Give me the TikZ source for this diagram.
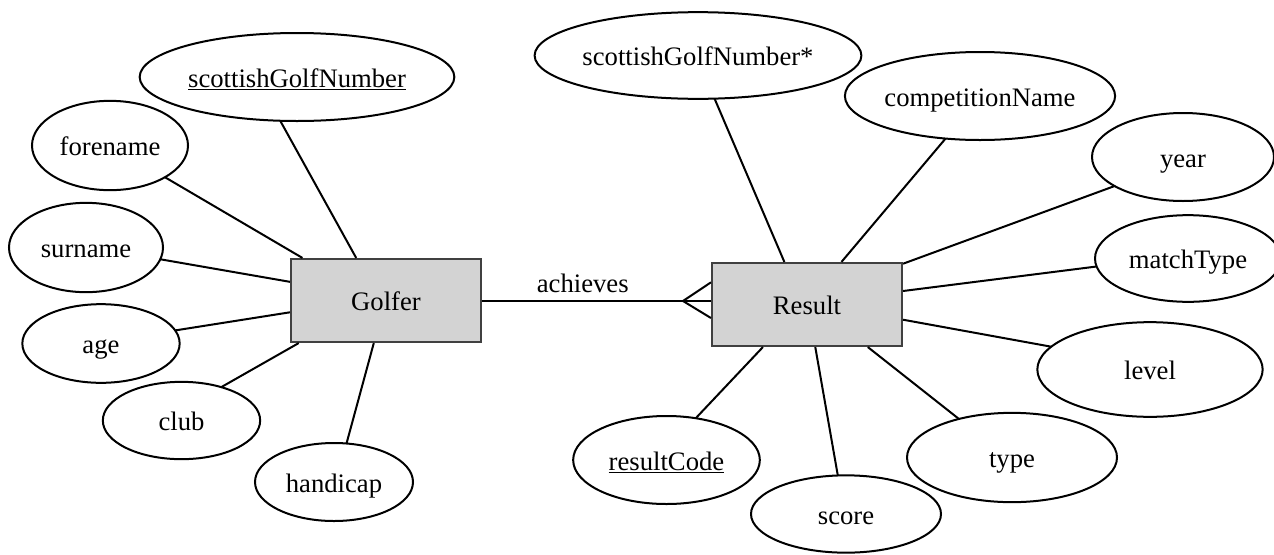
\documentclass[tikz,border=0pt]{standalone}
\usepackage{fontspec}
\setmainfont{Liberation Serif}
\usetikzlibrary{shapes.geometric}
\definecolor{entfill}{RGB}{211,211,211}

\begin{document}
\begin{tikzpicture}[x=0.75pt,y=0.75pt,yscale=-1,xscale=1,
  every node/.style={font=\fontsize{20}{24}\selectfont, text height=17pt, text depth=1.8pt},
  entity/.style={draw=black!75, line width=1.6pt, fill=entfill, minimum width=142.5pt, minimum height=62.25pt, inner sep=0pt},
  attr/.style={ellipse, draw=black, line width=1.5pt, inner sep=0pt, outer sep=0pt},
  link/.style={draw=black, line width=1.5pt}]

\useasboundingbox (0,0) rectangle (1274,554);

%Shape: Rectangle [entities]
\node[entity] (golfer) at (386,300.5) {Golfer};
\node[entity] (result) at (807,304.5) {Result};

%Shape: Ellipse [Golfer attributes]
\node[attr, minimum width=236pt, minimum height=66pt] (sgn) at (297,77) {\underline{scottishGolfNumber}};
\node[attr, minimum width=117pt, minimum height=67pt] (forename) at (110,145.5) {forename};
\node[attr, minimum width=115.5pt, minimum height=67pt] (surname) at (86,247.5) {surname};
\node[attr, minimum width=118pt, minimum height=59pt] (age) at (101,343.5) {age};
\node[attr, minimum width=118pt, minimum height=58pt] (club) at (181.5,420.5) {club};
\node[attr, minimum width=118.5pt, minimum height=58.5pt] (handicap) at (334,482) {handicap};

%Shape: Ellipse [Result attributes]
\node[attr, minimum width=241.5pt, minimum height=65pt] (sgnfk) at (698,55.5) {scottishGolfNumber*};
\node[attr, minimum width=199.5pt, minimum height=66pt] (compname) at (980,96) {competitionName};
\node[attr, minimum width=136.5pt, minimum height=66pt] (year) at (1183,157) {year};
\node[attr, minimum width=139.5pt, minimum height=65pt] (matchtype) at (1188,258.5) {matchType};
\node[attr, minimum width=169pt, minimum height=71pt] (level) at (1150,369.5) {level};
\node[attr, minimum width=157.5pt, minimum height=67pt] (type) at (1012,457.5) {type};
\node[attr, minimum width=142.5pt, minimum height=58pt] (score) at (846,514) {score};
\node[attr, minimum width=140pt, minimum height=66pt] (resultcode) at (666.5,460) {\underline{resultCode}};

%Straight Lines [Golfer links]
\draw[link] (golfer.125) -- (sgn.249);
\draw[link] (golfer.153) -- (forename.330);
\draw[link] (golfer.169) -- (surname.351);
\draw[link] (golfer.187) -- (age.10);
\draw[link] (golfer.206) -- (club.40);
\draw[link] (golfer.254) -- (handicap.72);

%Straight Lines [Result links]
\draw[link] (result.118) -- (sgnfk.291);
\draw[link] (result.51) -- (compname.231.5);
\draw[link] (result.23.5) -- (year.203);
\draw[link] (result.8) -- (matchtype.185);
\draw[link] (result.351) -- (level.167);
\draw[link] (result.325) -- (type.144);
\draw[link] (result.281) -- (score.102);
\draw[link] (result.224) -- (resultcode.55);

%Relationship with crow's foot
\coordinate (crow) at (683,301);
\draw[link] (golfer.east) -- node[pos=0.44, above] (achieves) {achieves} (golfer.east -| result.west);
\draw[link] (result.167.8) -- (crow) -- (result.188.7);

\end{tikzpicture}
\end{document}
